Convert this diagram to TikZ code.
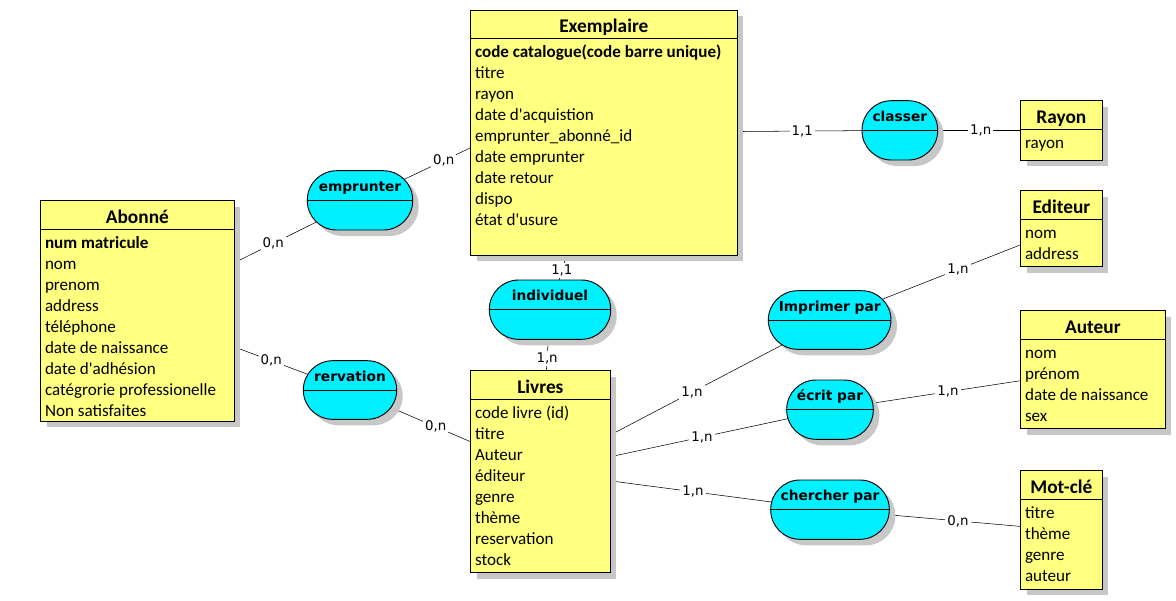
\documentclass[tikz,border=0pt]{standalone}
\usepackage{fontspec}
\setmainfont{Carlito}
\newfontfamily\assofont{DejaVu Sans}
\usetikzlibrary{backgrounds, fit, shadows}
\newcommand{\apos}{\textquotesingle}
\definecolor{entjaune}{RGB}{255,255,128}
\definecolor{assocyan}{RGB}{0,240,255}
\tikzset{
    ombre/.style={drop shadow={shadow xshift=4.5pt, shadow yshift=-4.5pt, fill=black!22, opacity=1}},
    entite/.style={draw, fill=entjaune, inner sep=0pt, line width=0.7pt, ombre},
    assoc/.style={draw, fill=assocyan, inner sep=0pt, line width=0.7pt, rounded corners=22pt, ombre},
    titre/.style={anchor=base, inner sep=0pt, font=\fontsize{14.5}{17}\selectfont\bfseries},
    attr/.style={anchor=base west, inner sep=0pt, font=\fontsize{12.8}{15}\selectfont},
    nomasso/.style={anchor=base, inner sep=0pt, font=\assofont\fontsize{10.3}{12}\selectfont\bfseries},
    card/.style={fill=white, inner sep=1.5pt, font=\assofont\fontsize{10}{12}\selectfont},
    lien/.style={line width=0.7pt}
}

\begin{document}
\begin{tikzpicture}[x=0.75pt, y=-0.75pt]
    \useasboundingbox (0,0) rectangle (1176,600);
    % entites
    \node[entite, fit={(40.7,200.7) (234,421)}] (abo) {};
    \node[entite, fit={(470.7,10) (737,255)}] (exm) {};
    \node[entite, fit={(470.7,370.7) (610,572.7)}] (liv) {};
    \node[entite, fit={(1020.7,100.7) (1102,160)}] (ray) {};
    \node[entite, fit={(1020.7,190.7) (1102,266.7)}] (edi) {};
    \node[entite, fit={(1020.7,310.7) (1165,428.7)}] (aut) {};
    \node[entite, fit={(1020.7,470.7) (1102,589.3)}] (mot) {};
    \foreach \e in {abo,exm,liv,ray,edi,aut,mot}
        \draw[lien] ([yshift=-21.75pt]\e.north west) -- ([yshift=-21.75pt]\e.north east);
    \node[titre] (abo-t) at ([yshift=-17.25pt]abo.north) {Abonné};
    \node[titre] (exm-t) at ([yshift=-17.25pt]exm.north) {Exemplaire};
    \node[titre] (liv-t) at ([yshift=-17.25pt]liv.north) {Livres};
    \node[titre] (ray-t) at ([yshift=-17.25pt]ray.north) {Rayon};
    \node[titre] (edi-t) at ([yshift=-17.25pt]edi.north) {Editeur};
    \node[titre] (aut-t) at ([yshift=-17.25pt]aut.north) {Auteur};
    \node[titre] (mot-t) at ([yshift=-17.25pt]mot.north) {Mot-clé};
    % attributs
    \foreach \a [count=\i] in {{\bfseries num matricule}, nom, prenom, address, téléphone,
        date de naissance, date d\apos adhésion, catégrorie professionelle, Non satisfaites}
        \node[attr] (abo-\i) at ([xshift=3.4pt, yshift=-36pt-15.75pt*(\i-1)]abo.north west) {\a};
    \foreach \a [count=\i] in {{\bfseries code catalogue(code barre unique)}, titre, rayon,
        date d\apos acquistion, emprunter\_abonné\_id, date emprunter, date retour, dispo, état d\apos usure}
        \node[attr] (exm-\i) at ([xshift=3.4pt, yshift=-36pt-15.75pt*(\i-1)]exm.north west) {\a};
    \foreach \a [count=\i] in {code livre (id), titre, Auteur, éditeur, genre, thème, reservation, stock}
        \node[attr] (liv-\i) at ([xshift=3.4pt, yshift=-36pt-15.75pt*(\i-1)]liv.north west) {\a};
    \foreach \a [count=\i] in {rayon}
        \node[attr] (ray-\i) at ([xshift=3.4pt, yshift=-36pt-15.75pt*(\i-1)]ray.north west) {\a};
    \foreach \a [count=\i] in {nom, address}
        \node[attr] (edi-\i) at ([xshift=3.4pt, yshift=-36pt-15.75pt*(\i-1)]edi.north west) {\a};
    \foreach \a [count=\i] in {nom, prénom, date de naissance, sex}
        \node[attr] (aut-\i) at ([xshift=3.4pt, yshift=-36pt-15.75pt*(\i-1)]aut.north west) {\a};
    \foreach \a [count=\i] in {titre, thème, genre, auteur}
        \node[attr] (mot-\i) at ([xshift=3.4pt, yshift=-36pt-15.75pt*(\i-1)]mot.north west) {\a};
    % associations
    \node[assoc, fit={(307.3,170.7) (412.7,230)}] (emp) {};
    \node[assoc, fit={(303.3,360.7) (396.7,419.3)}] (rer) {};
    \node[assoc, fit={(489.3,280) (610.7,339.3)}] (ind) {};
    \node[assoc, fit={(862,100.7) (937.7,160)}] (cla) {};
    \node[assoc, fit={(768.3,290.7) (891,349.3)}] (imp) {};
    \node[assoc, fit={(786.7,380) (873.3,439.3)}] (ecr) {};
    \node[assoc, fit={(770.7,480) (889.3,539.3)}] (che) {};
    \foreach \a in {emp,rer,ind,cla,imp,ecr,che}
        \draw[lien] (\a.west) -- (\a.east);
    \node[nomasso] (emp-t) at ([yshift=-16pt]emp.north) {emprunter};
    \node[nomasso] (rer-t) at ([yshift=-16pt]rer.north) {rervation};
    \node[nomasso] (ind-t) at ([yshift=-16pt]ind.north) {individuel};
    \node[nomasso] (cla-t) at ([yshift=-16pt]cla.north) {classer};
    \node[nomasso] (imp-t) at ([yshift=-16pt]imp.north) {Imprimer par};
    \node[nomasso] (ecr-t) at ([yshift=-16pt]ecr.north) {écrit par};
    \node[nomasso] (che-t) at ([yshift=-16pt]che.north) {chercher par};
    % liens
    \begin{scope}[on background layer, lien]
    \draw (abo.center) -- (emp.center) node[card, pos=0.61] (c1) {0,n};
    \draw (emp.center) -- ([yshift=-11.6pt]exm.west) node[card, pos=0.76] (c2) {0,n};
    \draw (abo.center) -- (rer.center) node[card, pos=0.63] (c3) {0,n};
    \draw (rer.center) -- (liv.center) node[card, pos=0.45] (c4) {0,n};
    \draw (exm.center) -- (cla.center) node[card, pos=0.67] (c5) {1,1};
    \draw (cla.center) -- (ray.center) node[card, pos=0.50] (c6) {1,n};
    \draw (exm.center) -- (ind.center) node[card, pos=0.78] (c7) {1,1};
    \draw (ind.center) -- (liv.center) node[card, pos=0.30] (c8) {1,n};
    \draw (liv.center) -- (imp.center) node[card, pos=0.524] (c9) {1,n};
    \draw (imp.center) -- (edi.center) node[card, pos=0.554] (c10) {1,n};
    \draw (liv.center) -- (ecr.center) node[card, pos=0.558] (c11) {1,n};
    \draw (ecr.center) -- (aut.center) node[card, pos=0.449] (c12) {1,n};
    \draw (liv.center) -- (che.center) node[card, pos=0.527] (c13) {1,n};
    \draw (che.center) -- (mot.center) node[card, pos=0.553] (c14) {0,n};
    \end{scope}
\end{tikzpicture}
\end{document}
